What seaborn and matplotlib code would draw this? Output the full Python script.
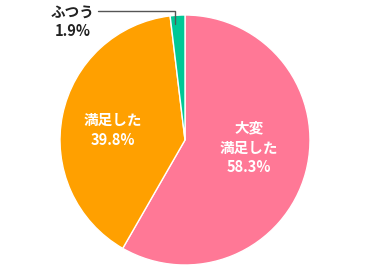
import matplotlib
matplotlib.use("Agg")
import matplotlib.pyplot as plt
import seaborn as sns

sns.set_theme(style="white")
plt.rcParams['font.family'] = ['Noto Sans CJK JP', 'DejaVu Sans']

categories = ["大変\n満足した", "満足した", "ふつう"]
values = [58.3, 39.8, 1.9]
colors = ["#FF7896", "#FFA000", "#00C896"]

W, H = 370, 273
fig = plt.figure(figsize=(W / 100, H / 100), dpi=100)
cx, cy, r = 185, 140, 125
ax = fig.add_axes([(cx - r) / W, (H - cy - r) / H, 2 * r / W, 2 * r / H])
ax.pie(values, colors=colors, startangle=90, counterclock=False,
       wedgeprops=dict(edgecolor="white", linewidth=1))
ax.set_xlim(-1, 1)
ax.set_ylim(-1, 1)
ax.set_aspect("auto")
ax.axis("off")

fs = 10.5
ax.text(0.51, -0.06, f"{categories[0]}\n{values[0]}%", ha="center", va="center",
        color="white", fontsize=fs, fontweight="bold", linespacing=1.3)
ax.text(-0.575, 0.08, f"{categories[1]}\n{values[1]}%", ha="center", va="center",
        color="white", fontsize=fs, fontweight="bold", linespacing=1.3)
ax.text(-0.90, 0.95, f"{categories[2]}\n{values[2]}%", ha="center", va="center",
        color="#222222", fontsize=fs, fontweight="bold", linespacing=1.3)
ax.plot([-0.70, -0.08, -0.08], [1.032, 1.032, 0.93], color="#555555",
        linewidth=1, clip_on=False)

fig.savefig("out.png", dpi=100)
